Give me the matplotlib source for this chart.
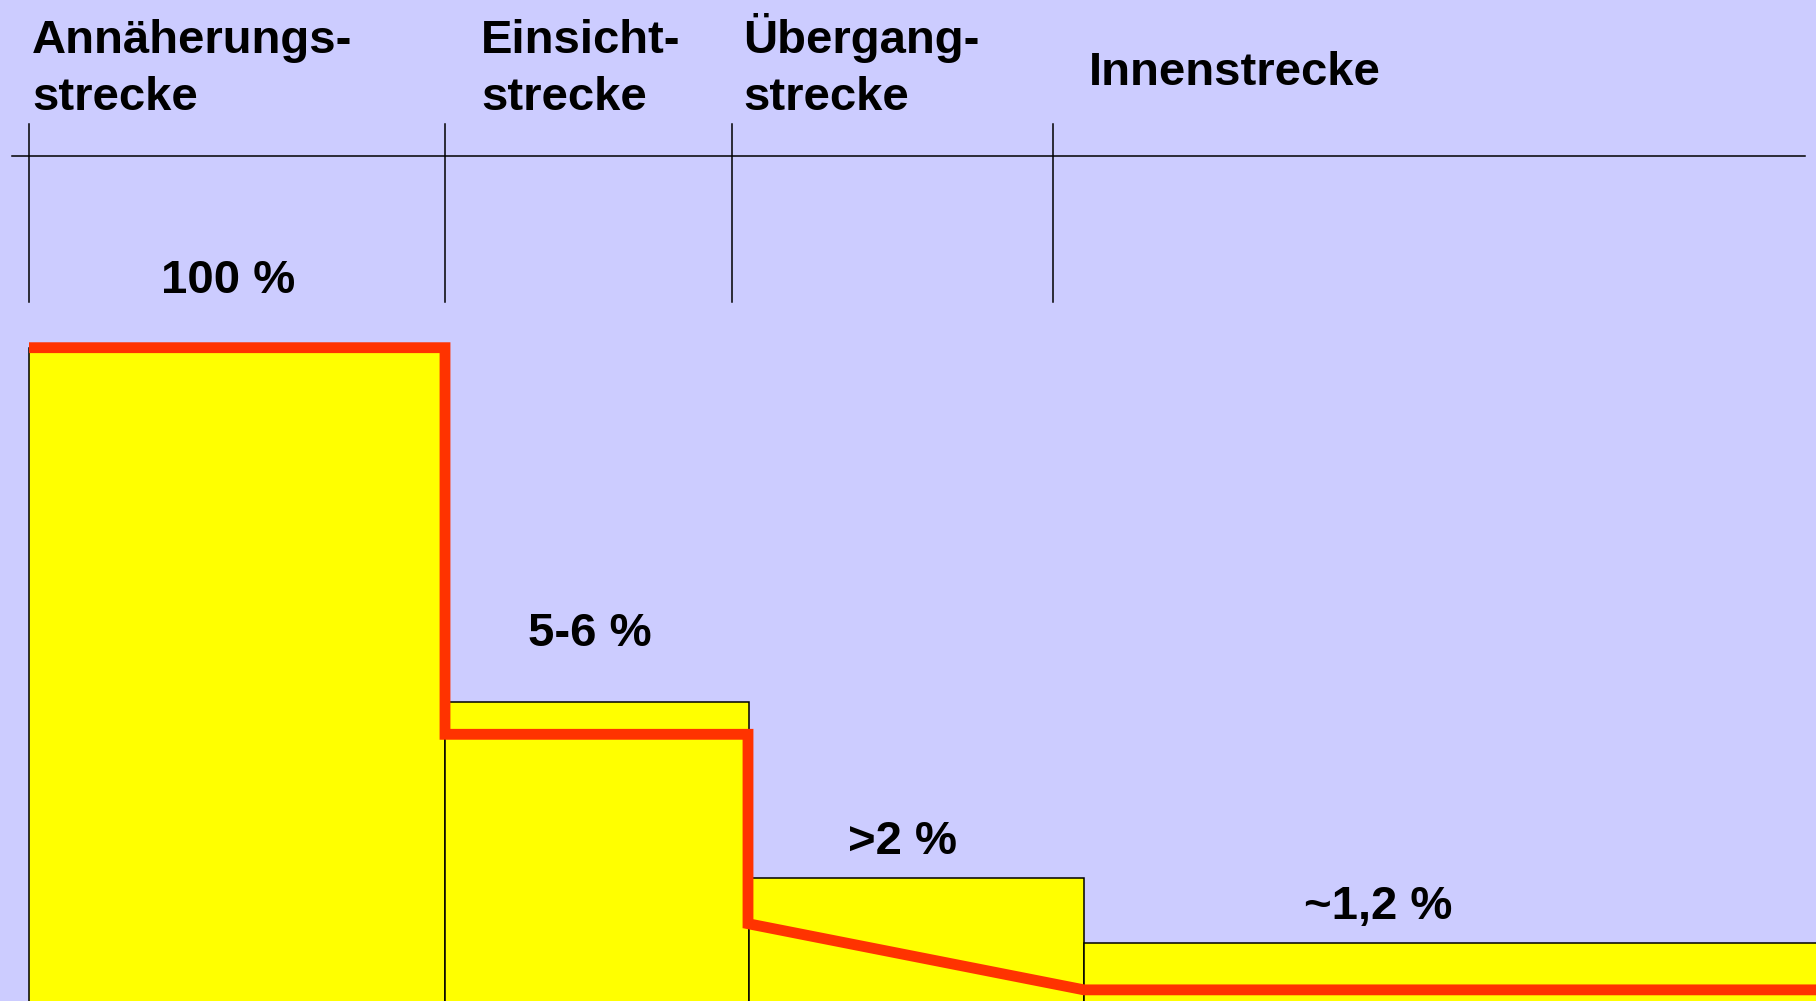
"""Schematic: light level along a tunnel approach (Annäherungs- bis Innenstrecke)."""

import matplotlib.pyplot as plt

plt.rcParams["font.family"] = ["Liberation Sans", "DejaVu Sans"]

# section boundaries along the road (px-like length units) and bar levels
# (relative, first section = 100)
SECTION_EDGES = [29, 445, 749, 1084, 1900]
BAR_LEVELS    = [100, 45.9, 19.0, 9.2]
BAR_LABELS    = ["100 %", "5-6 %", ">2 %", "~1,2 %"]
LABEL_X       = [228, 590, 903, 1378]
LABEL_Y       = [108.3, 54.4, 22.8, 12.8]

# red luminance curve
CURVE_X = [29, 445, 445, 748, 748, 1084, 1816]
CURVE_Y = [100, 100, 41.0, 41.0, 12.1, 2.0, 2.0]

# header zone markers
ZONE_TICKS  = [29, 445, 732, 1053]
ZONE_LINES  = [["Annäherungs-", "strecke"], ["Einsicht-", "strecke"],
               ["Übergang-", "strecke"], ["Innenstrecke"]]
ZONE_TEXT_X = [32, 481, 743, 1089]

BG     = "#CCCCFF"
YELLOW = "#FFFF00"
RED    = "#FF3300"
FS     = 34


def main() -> None:
    fig = plt.figure(figsize=(18.16, 10.01), dpi=100, facecolor=BG)
    ax = fig.add_axes([0, 0, 1, 1])
    ax.set_facecolor(BG)
    ax.set_xlim(0, 1816)
    ax.set_ylim(0.3, 153.06)
    ax.axis("off")

    # bars
    widths = [b - a for a, b in zip(SECTION_EDGES[:-1], SECTION_EDGES[1:])]
    ax.bar(SECTION_EDGES[:-1], BAR_LEVELS, widths, align="edge",
           color=YELLOW, edgecolor="black", linewidth=1.1, zorder=2)

    # curve
    ax.plot(CURVE_X, CURVE_Y, color=RED, linewidth=7.8,
            solid_joinstyle="miter", solid_capstyle="butt", zorder=3)

    # value labels
    for x, y, s in zip(LABEL_X, LABEL_Y, BAR_LABELS):
        ax.text(x, y, s, ha="center", va="baseline", fontsize=FS,
                fontweight="bold", zorder=4)

    # header: zone line and markers
    ax.plot([12, 1805], [129.2, 129.2], color="black", linewidth=1.1, zorder=1)
    for x in ZONE_TICKS:
        ax.plot([x, x], [107.0, 134.1], color="black", linewidth=1.1, zorder=1)

    for x, lines in zip(ZONE_TEXT_X, ZONE_LINES):
        if len(lines) == 2:
            ax.text(x, 145.0, lines[0], ha="left", va="baseline",
                    fontsize=FS, fontweight="bold")
            ax.text(x, 136.2, lines[1], ha="left", va="baseline",
                    fontsize=FS, fontweight="bold")
        else:
            ax.text(x, 140.1, lines[0], ha="left", va="baseline",
                    fontsize=FS, fontweight="bold")

    fig.savefig("out.png", dpi=100, facecolor=BG)
    plt.close(fig)


if __name__ == "__main__":
    main()
